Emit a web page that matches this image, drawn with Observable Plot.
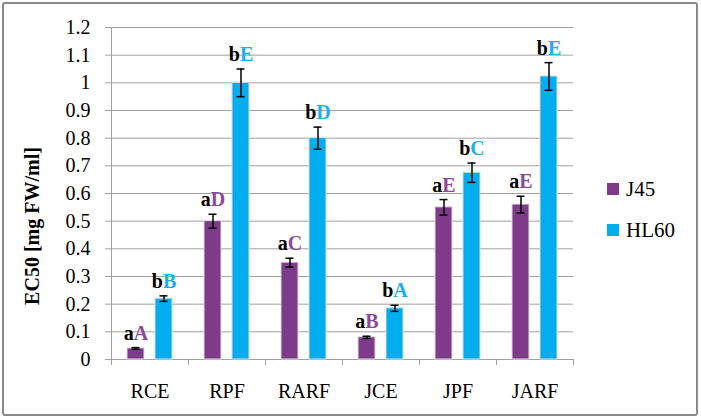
<!DOCTYPE html>
<html>
<head>
<meta charset="utf-8">
<script src="https://cdn.jsdelivr.net/npm/d3@7"></script>
<script src="https://cdn.jsdelivr.net/npm/@observablehq/plot@0.6"></script>
<style>
  html, body { margin: 0; padding: 0; background: #fff; }
  #wrap { position: relative; width: 701px; height: 420px; overflow: hidden; font-family: "Liberation Serif", serif; }
  #border { position: absolute; left: 2px; top: 2px; width: 692px; height: 410px; border: 2px solid #8a8a8a; border-radius: 3px; }
  #chart { position: absolute; left: 0; top: 0; }
  #ylabel { position: absolute; left: 32px; top: 226px; transform: translate(-50%, -50%) rotate(-90deg); font-weight: bold; font-size: 20px; white-space: nowrap; color: #000; }
  #legend { position: absolute; left: 607px; top: 178px; font-size: 21px; color: #000; }
  .item { display: flex; align-items: center; height: 22px; margin-bottom: 19px; }
  .sw { width: 12px; height: 12px; margin-right: 7px; }
</style>
</head>
<body>
<div id="wrap">
  <div id="border"></div>
  <div id="chart"></div>
  <div id="ylabel">EC50 [mg FW/ml]</div>
  <div id="legend"></div>
</div>
<script>
const categories = ["RCE", "RPF", "RARF", "JCE", "JPF", "JARF"];
const series = ["J45", "HL60"];
const j45Values = [0.04, 0.50, 0.35, 0.08, 0.55, 0.56];
const j45Errors = [0.003, 0.025, 0.016, 0.004, 0.028, 0.03];
const hl60Values = [0.22, 1.00, 0.80, 0.185, 0.675, 1.023];
const hl60Errors = [0.01, 0.05, 0.04, 0.011, 0.035, 0.05];
const j45Labels = ["aA", "aD", "aC", "aB", "aE", "aE"];
const hl60Labels = ["bB", "bE", "bD", "bA", "bC", "bE"];
const yTicks = [0, 0.1, 0.2, 0.3, 0.4, 0.5, 0.6, 0.7, 0.8, 0.9, 1.0, 1.1, 1.2];

const colors = {J45: "#7e3b8a", HL60: "#00aeef"};
const labelColors = {J45: "#8a4a9a", HL60: "#1ab0ea"};

const rows = [];
categories.forEach((c, i) => {
  rows.push({cat: c, series: "J45", value: j45Values[i], err: j45Errors[i], label: j45Labels[i]});
  rows.push({cat: c, series: "HL60", value: hl60Values[i], err: hl60Errors[i], label: hl60Labels[i]});
});

const gray = "#a0a0a0";
const serifFont = "'Liberation Serif', serif";

const plot = Plot.plot({
  width: 701,
  height: 420,
  marginLeft: 111,
  marginRight: 128,
  marginTop: 27,
  marginBottom: 61,
  style: {fontFamily: serifFont, fontSize: "20px", color: "#000", background: "transparent", overflow: "visible"},
  fx: {domain: categories, padding: 0, label: null},
  x: {domain: series, paddingInner: 0.386, paddingOuter: 0.544, axis: null},
  y: {domain: [0, 1.2]},
  color: {domain: series, range: [colors.J45, colors.HL60]},
  marks: [
    Plot.gridY(yTicks, {stroke: gray, strokeOpacity: 1}),
    Plot.axisY(yTicks, {tickSize: 6, tickPadding: 15, stroke: gray, fill: "#000", fontSize: 20, label: null, tickFormat: d => String(+d.toFixed(1))}),
    Plot.frame({anchor: "left", facetAnchor: "left", stroke: gray}),
    Plot.ruleY([0], {stroke: gray}),
    Plot.axisFx({anchor: "bottom", tickSize: 6, text: null, stroke: gray, dx: -38.5, label: null}),
    Plot.axisFx({anchor: "bottom", ticks: ["JARF"], tickSize: 6, text: null, stroke: gray, dx: 38.5, label: null}),
    Plot.axisFx({anchor: "bottom", tickSize: 0, tickPadding: 24, fontSize: 20, fill: "#000", label: null}),
    Plot.barY(rows, {fx: "cat", x: "series", y: "value", fill: "series", stroke: "#dcdcdc", strokeWidth: 1}),
    Plot.ruleX(rows, {fx: "cat", x: "series", y1: d => d.value - d.err, y2: d => d.value + d.err, stroke: "#000", strokeWidth: 1.5}),
    Plot.tickY(rows, {fx: "cat", x: "series", y: d => d.value - d.err, insetLeft: 4.5, insetRight: 4.5, stroke: "#000", strokeWidth: 1.5}),
    Plot.tickY(rows, {fx: "cat", x: "series", y: d => d.value + d.err, insetLeft: 4.5, insetRight: 4.5, stroke: "#000", strokeWidth: 1.5}),
    Plot.text(rows, {fx: "cat", x: "series", y: d => d.value + d.err, text: "label", lineAnchor: "bottom", dy: -8, fontWeight: "bold", fontSize: 20, fontFamily: serifFont, fill: "#000", ariaLabel: "series", ariaDescription: "barlabels"})
  ]
});

document.getElementById("chart").appendChild(plot);

d3.select(plot).selectAll(`g[aria-description="barlabels"] text`).each(function() {
  const t = this.textContent;
  const s = this.getAttribute("aria-label");
  const sel = d3.select(this);
  sel.text(null);
  sel.append("tspan").attr("fill", "#000").text(t.slice(0, 1));
  sel.append("tspan").attr("fill", labelColors[s] || "#000").text(t.slice(1));
});

const legend = d3.select("#legend");
series.forEach(s => {
  const item = legend.append("div").attr("class", "item");
  item.append("div").attr("class", "sw").style("background", colors[s]);
  item.append("span").text(s);
});
</script>
</body>
</html>
